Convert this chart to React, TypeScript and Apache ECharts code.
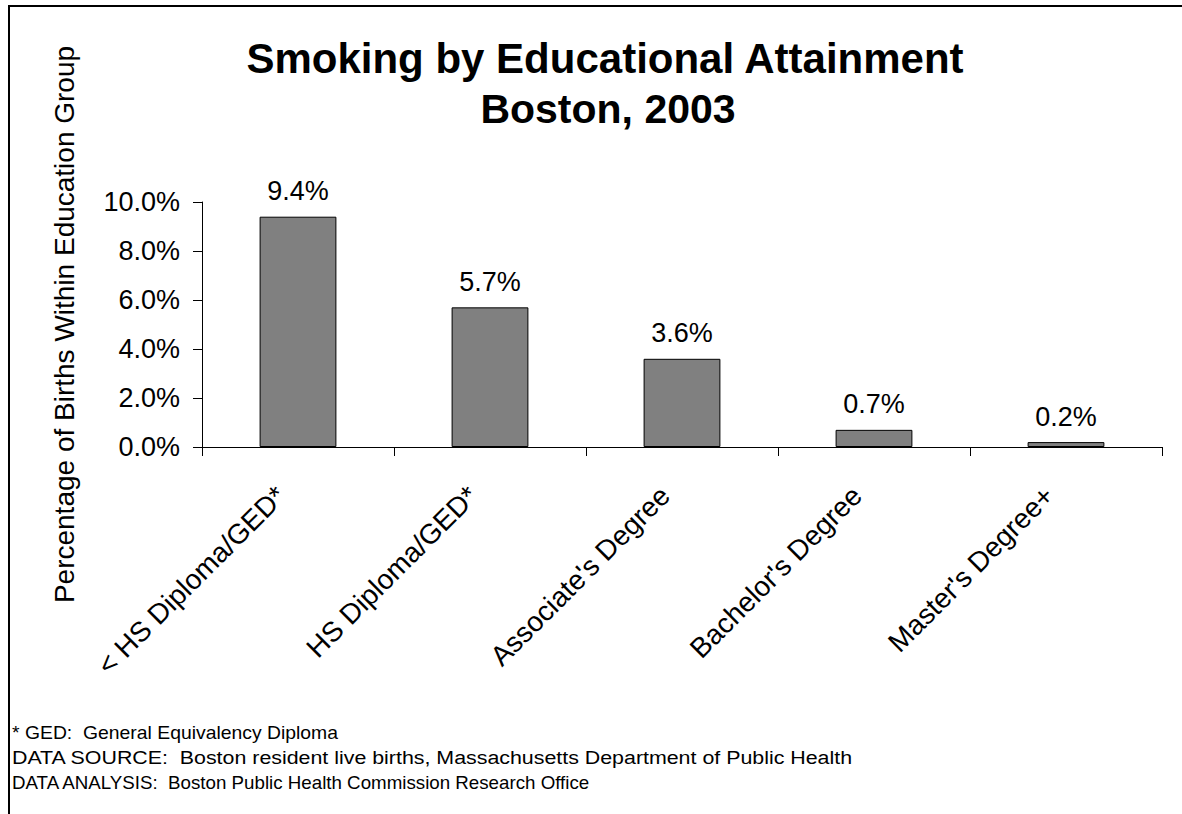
import React, { useEffect, useRef } from "react";
import * as echarts from "echarts";

const categories = [
  "< HS Diploma/GED*",
  "HS Diploma/GED*",
  "Associate's Degree",
  "Bachelor's Degree",
  "Master's Degree+",
];
const smokingPct = [9.4, 5.7, 3.6, 0.7, 0.2];
const yTicks = { min: 0, max: 10, interval: 2 };
const titleLines = ["Smoking by Educational Attainment", "Boston, 2003"];
const yAxisName = "Percentage of Births Within Education Group";
const footnotes = [
  "* GED:  General Equivalency Diploma",
  "DATA SOURCE:  Boston resident live births, Massachusetts Department of Public Health",
  "DATA ANALYSIS:  Boston Public Health Commission Research Office",
];

const FONT = "'Liberation Sans', Arial, Helvetica, sans-serif";
const footStretch = [1.076, 1.188, 1.041];

export default function App() {
  const ref = useRef<HTMLDivElement>(null);
  useEffect(() => {
    if (!ref.current) return;
    const chart = echarts.init(ref.current, null, { renderer: "svg" });
    const pct = (v: number) => v.toFixed(1) + "%";
    chart.setOption({
      animation: false,
      backgroundColor: "#ffffff",
      textStyle: { fontFamily: FONT, color: "#000" },
      grid: { left: 202, right: 20, top: 202, bottom: 367, containLabel: false },
      xAxis: {
        type: "category",
        data: categories,
        boundaryGap: true,
        axisLine: { show: true, lineStyle: { color: "#000", width: 1 } },
        axisTick: { show: true, length: 9, interval: 0, alignWithLabel: false, lineStyle: { color: "#000" } },
        axisLabel: {
          interval: 0,
          rotate: 45,
          margin: 27,
          padding: [0, 24, 0, 0],
          fontSize: 28,
          color: "#000",
          fontFamily: FONT,
        },
      },
      yAxis: {
        type: "value",
        min: yTicks.min,
        max: yTicks.max,
        interval: yTicks.interval,
        name: yAxisName,
        nameLocation: "middle",
        nameRotate: 90,
        nameGap: 124,
        nameTextStyle: { fontSize: 28, color: "#000", fontFamily: FONT },
        axisLine: { show: true, lineStyle: { color: "#000", width: 1 } },
        axisTick: { show: true, length: 9, inside: false, lineStyle: { color: "#000" } },
        splitLine: { show: false },
        axisLabel: {
          margin: 22,
          fontSize: 27,
          color: "#000",
          fontFamily: FONT,
          formatter: (v: number) => pct(v),
        },
      },
      series: [
        {
          type: "bar",
          data: smokingPct,
          barWidth: "40%",
          itemStyle: { color: "#808080", borderColor: "#000", borderWidth: 1 },
          label: {
            show: true,
            position: "top",
            distance: 12,
            fontSize: 27,
            color: "#000",
            fontFamily: FONT,
            formatter: (p: any) => pct(p.value),
          },
        },
      ],
      graphic: [
        {
          type: "rect",
          shape: { x: 9, y: 6, width: 1400, height: 1000 },
          style: { fill: "none", stroke: "#000", lineWidth: 2 },
          silent: true,
        },
        {
          type: "text",
          x: 605,
          y: 58.5,
          style: {
            text: titleLines[0],
            font: `bold 42px ${FONT}`,
            fill: "#000",
            align: "center",
            verticalAlign: "middle",
          },
        },
        {
          type: "text",
          x: 608,
          y: 108.6,
          style: {
            text: titleLines[1],
            font: `bold 41px ${FONT}`,
            fill: "#000",
            align: "center",
            verticalAlign: "middle",
          },
        },
        ...footnotes.map((t, i) => ({
          type: "text",
          x: 12,
          y: 732.4 + i * 25.3,
          scaleX: footStretch[i],
          style: {
            text: t,
            font: `18px ${FONT}`,
            fill: "#000",
            align: "left",
            verticalAlign: "middle",
          },
        })),
      ],
    });
    return () => chart.dispose();
  }, []);
  return (
    <div
      ref={ref}
      style={{ position: "fixed", left: 0, top: 0, width: 1182, height: 814, background: "#fff" }}
    />
  );
}
